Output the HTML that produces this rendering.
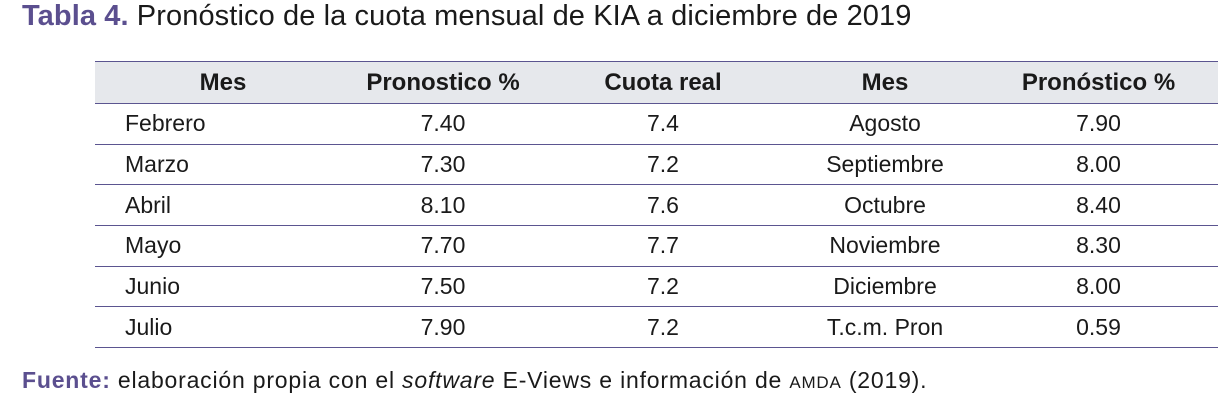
<!DOCTYPE html>
<html><head><meta charset="utf-8"><style>
body{margin:0;width:1232px;height:409px;background:#fff;font-family:"Liberation Sans",sans-serif;color:#1a1a1a;position:relative;overflow:hidden}
#title{position:absolute;left:22px;top:0px;font-size:29px;white-space:nowrap;letter-spacing:0.1px}
#title b{color:#5b4f8f}
table{position:absolute;left:95px;top:61px;border-collapse:collapse;font-size:23px}
td,th{height:39.7px;padding:0;text-align:center;border-bottom:1.5px solid #5b5590}
th{background:#e6e8ec;font-weight:bold;height:41px;border-top:1.5px solid #5b5590;font-size:24px}
td.l{text-align:left;padding-left:30px}
#src{position:absolute;left:22px;top:367px;font-size:23px;white-space:nowrap;letter-spacing:0.8px}
#src b{color:#5b4f8f}
</style></head><body>
<div id="title"><b>Tabla 4.</b> Pronóstico de la cuota mensual de KIA a diciembre de 2019</div>
<table>
<colgroup><col style="width:256px"><col style="width:184px"><col style="width:256px"><col style="width:188px"><col style="width:239px"></colgroup>
<tr><th>Mes</th><th>Pronostico %</th><th>Cuota real</th><th>Mes</th><th>Pronóstico %</th></tr>
<tr><td class="l">Febrero</td><td>7.40</td><td>7.4</td><td>Agosto</td><td>7.90</td></tr>
<tr><td class="l">Marzo</td><td>7.30</td><td>7.2</td><td>Septiembre</td><td>8.00</td></tr>
<tr><td class="l">Abril</td><td>8.10</td><td>7.6</td><td>Octubre</td><td>8.40</td></tr>
<tr><td class="l">Mayo</td><td>7.70</td><td>7.7</td><td>Noviembre</td><td>8.30</td></tr>
<tr><td class="l">Junio</td><td>7.50</td><td>7.2</td><td>Diciembre</td><td>8.00</td></tr>
<tr><td class="l">Julio</td><td>7.90</td><td>7.2</td><td>T.c.m. Pron</td><td>0.59</td></tr>
</table>
<div id="src"><b>Fuente:</b> elaboración propia con el <i>software</i> E-Views e información de <span style="font-size:17px">AMDA</span> (2019).</div>
</body></html>
